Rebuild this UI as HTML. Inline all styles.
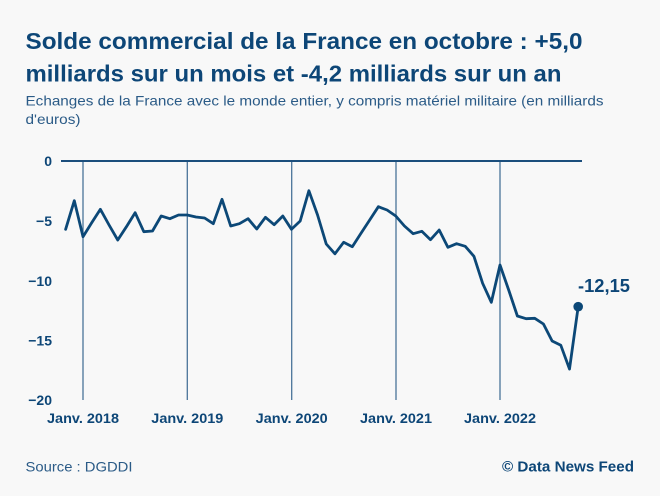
<!DOCTYPE html>
<html>
<head>
<meta charset="utf-8">
<style>
  html, body { margin: 0; padding: 0; background: #f8f8f8; }
  body { width: 660px; height: 496px; overflow: hidden; }
  svg { display: block; }
  text { font-family: "Liberation Sans", "DejaVu Sans", sans-serif; }
</style>
</head>
<body>
<svg width="660" height="496" viewBox="0 0 660 496" xmlns="http://www.w3.org/2000/svg">
  <rect x="0" y="0" width="660" height="496" fill="#f8f8f8"/>

  <!-- Title -->
  <text x="25.5" y="49" font-size="23" font-weight="bold" fill="#0d4677" textLength="557" lengthAdjust="spacingAndGlyphs">Solde commercial de la France en octobre : +5,0</text>
  <text x="25.5" y="81.5" font-size="23" font-weight="bold" fill="#0d4677" textLength="536" lengthAdjust="spacingAndGlyphs">milliards sur un mois et -4,2 milliards sur un an</text>

  <!-- Subtitle -->
  <text x="25.5" y="105.5" font-size="14" fill="#2b5b87" textLength="578" lengthAdjust="spacingAndGlyphs">Echanges de la France avec le monde entier, y compris matériel militaire (en milliards</text>
  <text x="25.5" y="124" font-size="14" fill="#2b5b87" textLength="55" lengthAdjust="spacingAndGlyphs">d'euros)</text>

  <!-- Vertical gridlines -->
  <g stroke="#4a7399" stroke-width="1.3">
    <line x1="83" y1="161" x2="83" y2="400"/>
    <line x1="187.3" y1="161" x2="187.3" y2="400"/>
    <line x1="291.7" y1="161" x2="291.7" y2="400"/>
    <line x1="396" y1="161" x2="396" y2="400"/>
    <line x1="500" y1="161" x2="500" y2="400"/>
  </g>

  <!-- Zero line -->
  <line x1="61" y1="161" x2="582" y2="161" stroke="#1b4e7c" stroke-width="2"/>

  <!-- Y axis labels -->
  <g font-size="14" font-weight="bold" fill="#0d4677" text-anchor="end">
    <text x="52" y="166">0</text>
    <text x="52" y="226">−5</text>
    <text x="52" y="286">−10</text>
    <text x="52" y="345.5">−15</text>
    <text x="52" y="405">−20</text>
  </g>

  <!-- X axis labels -->
  <g font-size="14" font-weight="bold" fill="#0d4677" text-anchor="middle">
    <text x="83" y="423" textLength="72" lengthAdjust="spacingAndGlyphs">Janv. 2018</text>
    <text x="187.3" y="423" textLength="72" lengthAdjust="spacingAndGlyphs">Janv. 2019</text>
    <text x="291.7" y="423" textLength="72" lengthAdjust="spacingAndGlyphs">Janv. 2020</text>
    <text x="396" y="423" textLength="72" lengthAdjust="spacingAndGlyphs">Janv. 2021</text>
    <text x="500" y="423" textLength="72" lengthAdjust="spacingAndGlyphs">Janv. 2022</text>
  </g>

  <!-- Data line -->
  <polyline fill="none" stroke="#0c4877" stroke-width="2.8" stroke-linejoin="round" stroke-linecap="round"
    points="65.63,229.3 74.31,200.7 83,236.7 91.69,222.7 100.38,209.3 109.06,225 117.75,240 126.44,226.7 135.13,212.7 143.81,231.7 152.5,231 161.19,216 169.88,218.7 178.56,215 187.25,215 195.94,217 204.63,218 213.31,223.7 222,199.3 230.69,226 239.38,223.7 248.06,218.7 256.75,229 265.44,217.3 274.13,224.7 282.81,216 291.5,229.3 300.19,221 308.88,190.7 317.56,215 326.25,244 334.94,253.8 343.63,242.3 352.31,246.7 361,233.3 369.69,220 378.38,206.7 387.06,210 395.75,216 404.44,226 413.13,233.7 421.81,231.3 430.5,239.7 439.19,230 447.88,247.3 456.56,243.7 465.25,246.3 473.94,256.3 482.63,283.3 491.31,302.3 500,265 508.69,290 517.38,316 526.06,318.7 534.75,318.3 543.44,324 552.13,341 560.81,345.3 569.5,369 578.19,306.7"/>
  <circle cx="578.19" cy="306.7" r="4.8" fill="#0c4877"/>

  <!-- Last value label -->
  <text x="578" y="292" font-size="18" font-weight="bold" fill="#0d4677" textLength="52" lengthAdjust="spacingAndGlyphs">-12,15</text>

  <!-- Footer -->
  <text x="25.5" y="471.5" font-size="14" fill="#2b5b87" textLength="107" lengthAdjust="spacingAndGlyphs">Source : DGDDI</text>
  <text x="634" y="471.5" font-size="15" font-weight="bold" fill="#0d4677" text-anchor="end" textLength="132" lengthAdjust="spacingAndGlyphs">© Data News Feed</text>
</svg>
</body>
</html>
